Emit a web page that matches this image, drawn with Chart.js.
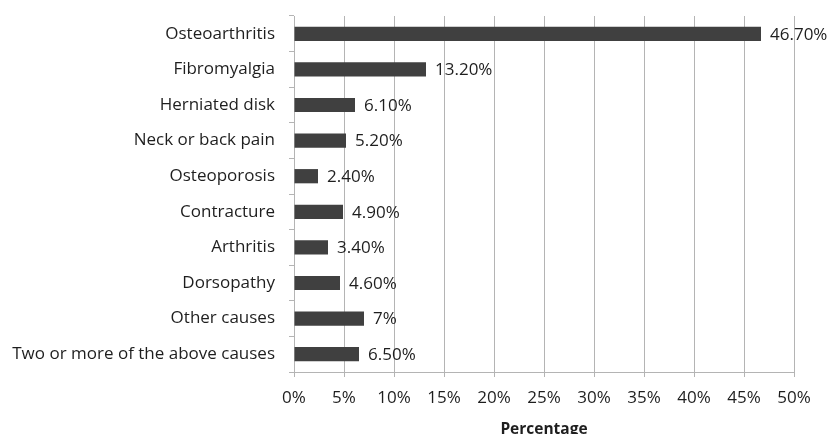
<!DOCTYPE html>
<html>
<head>
<meta charset="utf-8">
<script src="https://cdn.jsdelivr.net/npm/chart.js@4"></script>
<style>
  html, body { margin: 0; padding: 0; background: #fff; }
  #wrap { width: 830px; height: 434px; }
</style>
</head>
<body>
<div id="wrap"><canvas id="chart" width="830" height="434"></canvas></div>
<script>
// data
const causes = ['Osteoarthritis', 'Fibromyalgia', 'Herniated disk', 'Neck or back pain',
  'Osteoporosis', 'Contracture', 'Arthritis', 'Dorsopathy', 'Other causes',
  'Two or more of the above causes'];
const percents = [46.7, 13.2, 6.1, 5.2, 2.4, 4.9, 3.4, 4.6, 7, 6.5];
const valueLabels = ['46.70%', '13.20%', '6.10%', '5.20%', '2.40%', '4.90%',
  '3.40%', '4.60%', '7%', '6.50%'];
const xTicks = [0, 5, 10, 15, 20, 25, 30, 35, 40, 45, 50];

const FONT = "'Open Sans', 'DejaVu Sans', sans-serif";
const TEXT = '#1e1e1e';
const GRID = '#b4b4b4';

// value labels to the right of each bar
const barLabels = {
  id: 'barLabels',
  afterDatasetsDraw(chart) {
    const ctx = chart.ctx;
    const meta = chart.getDatasetMeta(0);
    ctx.save();
    ctx.font = '17px ' + FONT;
    ctx.fillStyle = TEXT;
    ctx.textAlign = 'left';
    ctx.textBaseline = 'middle';
    meta.data.forEach((bar, i) => {
      ctx.fillText(valueLabels[i], bar.x + 9, bar.y + 1);
    });
    ctx.restore();
  }
};

new Chart(document.getElementById('chart'), {
  type: 'bar',
  data: {
    labels: causes,
    datasets: [{
      data: percents,
      backgroundColor: '#404040',
      borderWidth: 0,
      barPercentage: 0.4,
      categoryPercentage: 1
    }]
  },
  options: {
    indexAxis: 'y',
    responsive: false,
    animation: false,
    layout: { padding: { top: 16, right: 36, left: 0, bottom: 0 } },
    plugins: {
      legend: { display: false },
      tooltip: { enabled: false }
    },
    scales: {
      x: {
        min: 0,
        max: 50,
        afterBuildTicks(scale) {
          scale.ticks = xTicks.map(v => ({ value: v }));
        },
        afterFit(scale) { scale.height = 62; },
        ticks: {
          callback: v => v + '%',
          font: { family: FONT, size: 17 },
          color: TEXT,
          padding: 11,
          maxRotation: 0
        },
        grid: {
          color: GRID,
          lineWidth: 1,
          tickLength: 5,
          drawTicks: true
        },
        border: { color: GRID, width: 1 },
        title: {
          display: true,
          text: 'Percentage',
          font: { family: FONT, size: 15.5, weight: 'bold' },
          color: TEXT,
          padding: { top: 0, bottom: -5 }
        }
      },
      y: {
        afterFit(scale) {
          scale.width = 294;
          scale.paddingTop = 0;
          scale.paddingBottom = 0;
        },
        ticks: {
          font: { family: FONT, size: 17 },
          color: TEXT,
          padding: 14
        },
        grid: {
          offset: true,
          drawOnChartArea: false,
          color: GRID,
          tickLength: 5
        },
        border: { color: GRID, width: 1 }
      }
    }
  },
  plugins: [barLabels]
});
</script>
</body>
</html>
